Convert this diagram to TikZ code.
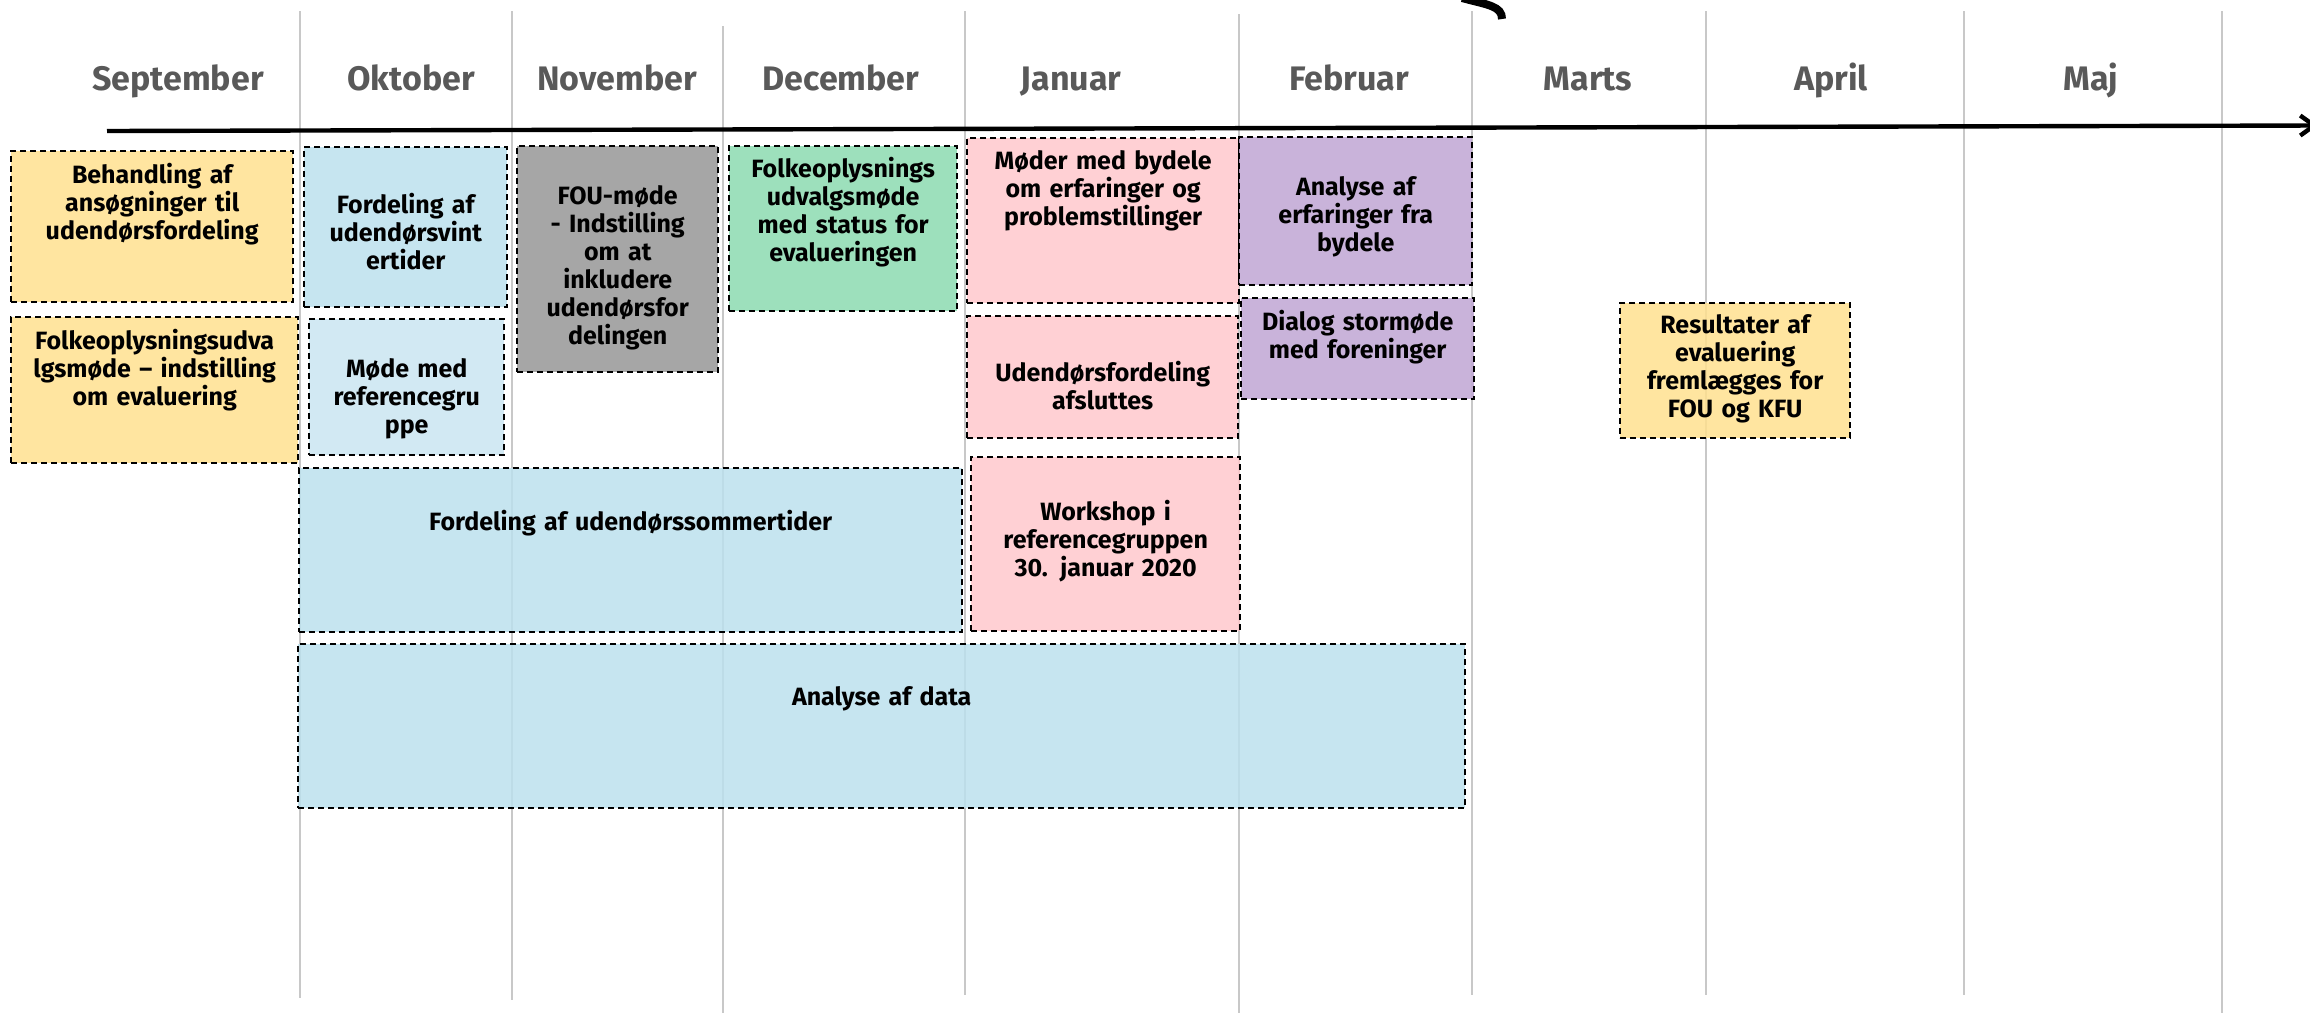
\documentclass[tikz,border=0pt]{standalone}
\usepackage{fontspec}
\setmainfont{Fira Sans}
\usetikzlibrary{arrows.meta}
\definecolor{clryellow}{HTML}{FFE08F}
\definecolor{clrblue}{HTML}{BCE0ED}
\definecolor{clrpale}{HTML}{CAE5F1}
\definecolor{clrgrey}{HTML}{969696}
\definecolor{clrgreen}{HTML}{8CDAB0}
\definecolor{clrpink}{HTML}{FFC8CC}
\definecolor{clrpurple}{HTML}{C0A6D3}
\definecolor{clrmonth}{HTML}{595959}
\definecolor{clrgrid}{HTML}{C8C8C8}
\newcommand{\boxfont}{\bfseries\fontsize{12.5}{14}\selectfont}
\newcommand{\monthfont}{\bfseries\fontsize{17}{20}\selectfont}
\newcommand{\txtkern}[1]{\par\kern#1pt}
\hyphenpenalty=10000
\begin{document}
\begin{tikzpicture}[x=0.5pt, y=-0.5pt,
    task/.style={draw, line width=1.2pt, dash pattern=on 3pt off 2pt, fill=#1,
        fill opacity=0.85, text opacity=1, anchor=north west, align=center,
        font=\boxfont, inner xsep=1pt, inner ysep=0pt},
    nudge/.style={execute at end node={\txtkern{#1}}},
    month/.style={font=\monthfont, text=clrmonth, anchor=base},
    gridline/.style={draw=clrgrid, line width=0.75pt},
    timeline/.style={line width=2.2pt, -{Straight Barb[length=7pt,width=10pt]}}]
    \useasboundingbox (0,0) rectangle (2310,1013);

    %month columns
        \foreach \x/\ya/\yb in {300/11/998, 512/11/1000, 723/26/1013, 965/11/995,
            1239/14/1013, 1472/11/995, 1706/11/995, 1964/11/995, 2222/11/1013} {
            \draw[gridline] (\x,\ya) -- (\x,\yb);
        }
    %month names
        \foreach \name/\x [count=\i] in {September/178, Oktober/411, November/617,
            December/841, Januar/1071, Februar/1349, Marts/1588, April/1831, Maj/2091} {
            \node[month] (m\i) at (\x,90) {\name};
        }
    %time axis
        \coordinate (tstart) at (107,131);
        \coordinate (tend) at (2318,125.5);
        \draw[timeline] (tstart) -- (tend);
        %cut-off glyph at the top edge
        \draw[line width=4pt] (1462,-2) .. controls (1488,5) and (1502,6) .. (1502,19);

    %september
        \node[task=clryellow, text width=139pt, minimum height=75.5pt, nudge=23] (behandling) at (10,150)
            {Behandling af\\ansøgninger til\\udendørsfordeling};
        \node[task=clryellow, text width=141.5pt, minimum height=73pt, nudge=20] (fudmoede) at (10,316)
            {Folkeoplysningsudva\\lgsmøde – indstilling\\om evaluering};
    %oktober
        \node[task=clrblue, text width=99.5pt, minimum height=80pt, nudge=-4] (vinter) at (303,146)
            {Fordeling af\\udendørsvint\\ertider};
        \node[task=clrpale, text width=95.5pt, minimum height=68pt, nudge=-12] (refgruppe) at (308,318)
            {Møde med\\referencegru\\ppe};
    %november
        \node[task=clrgrey, text width=98.5pt, minimum height=113pt, nudge=-9] (fou) at (516,145)
            {FOU-møde\\- Indstilling\\om at\\inkludere\\udendørsfor\\delingen};
    %december
        \node[task=clrgreen, text width=112pt, minimum height=82.5pt, nudge=16.5] (status) at (728,145)
            {Folkeoplysnings\\udvalgsmøde\\med status for\\evalueringen};
    %januar
        \node[task=clrpink, text width=134pt, minimum height=82.5pt, nudge=30] (bydele) at (966,137)
            {Møder med bydele\\om erfaringer og\\problemstillinger};
        \node[task=clrpink, text width=133.5pt, minimum height=61pt, nudge=-8.5] (afsluttes) at (966,315)
            {Udendørsfordeling\\afsluttes};
        \node[task=clrpink, text width=132.5pt, minimum height=87pt, nudge=3.5] (workshop) at (970,456)
            {Workshop i\\referencegruppen\\30. januar 2020};
    %februar
        \node[task=clrpurple, text width=114.5pt, minimum height=74pt, nudge=-5.5] (erfaringer) at (1238,136)
            {Analyse af\\erfaringer fra\\bydele};
        \node[task=clrpurple, text width=114.5pt, minimum height=50.5pt, nudge=12] (dialog) at (1240,297)
            {Dialog stormøde\\med foreninger};
    %april
        \node[task=clryellow, text width=113pt, minimum height=67.5pt, nudge=2] (resultater) at (1619,302)
            {Resultater af\\evaluering\\fremlægges for\\FOU og KFU};
    %long bars
        \node[task=clrblue, text width=329.5pt, minimum height=82pt, nudge=27] (sommer) at (298,467)
            {Fordeling af udendørssommertider};
        \node[task=clrblue, text width=581.5pt, minimum height=82pt, nudge=27] (data) at (297,643)
            {Analyse af data};
\end{tikzpicture}
\end{document}
